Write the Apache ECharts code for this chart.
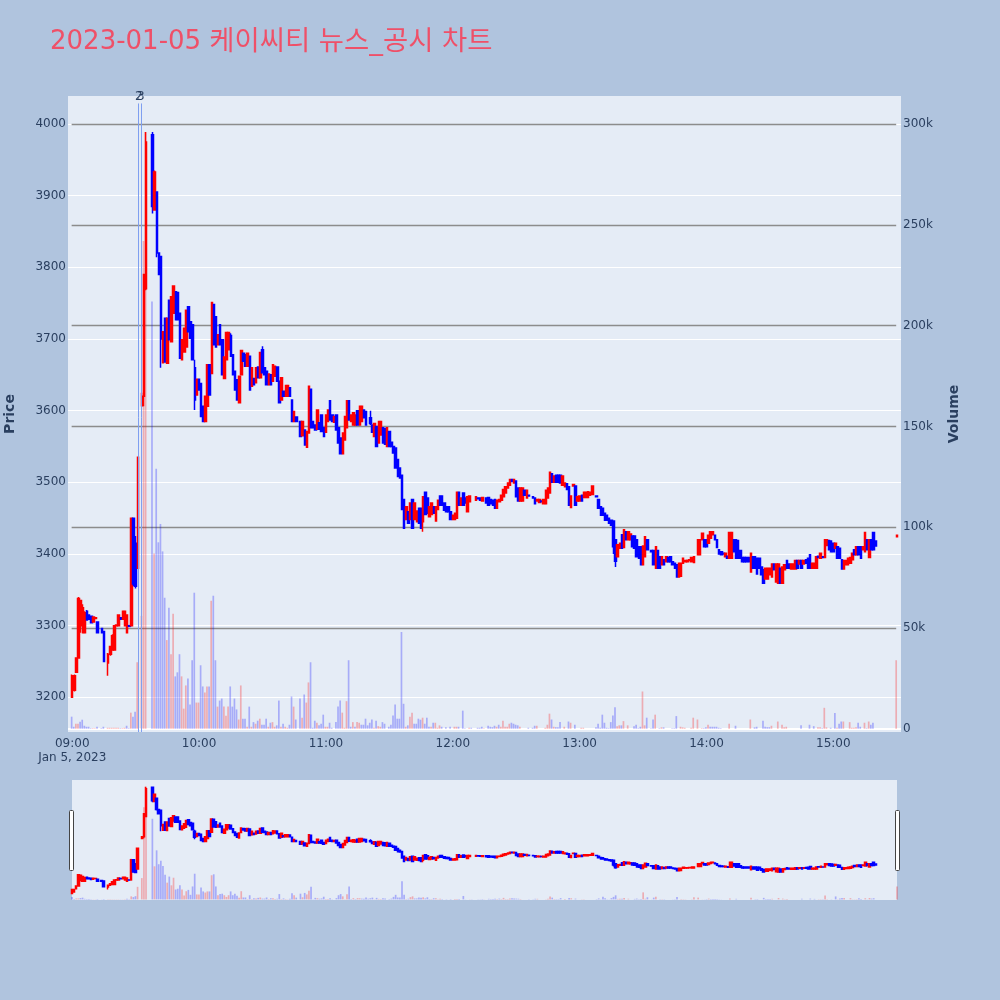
<!DOCTYPE html>
<html><head><meta charset="utf-8"><style>html,body{margin:0;padding:0;background:#b0c4de}#c{width:1000px;height:1000px}</style>
<script src="https://cdn.jsdelivr.net/npm/echarts@6/dist/echarts.min.js"></script></head><body><div id="c"></div><script>
const N=null;
// one entry per minute from 09:00 to 15:30
const opens=[3200,3210,3235,3255,3300,3290,3290,3320,3315,3313,
3305,3310,3305,N,3296,3292,N,3248,3260,3266,
3266,3300,3300,3311,3309,3300,3290,3300,3300,3450,
3415,3380,N,3607,3620,3770,N,N,3985,3880,
3905,3820,3815,3667,3729,3666,3754,3696,3736,3766,
3765,3736,3671,3682,3689,3745,3724,3720,3660,3622,
3644,3638,3606,3585,3606,3664,3652,3748,3731,3692,
3720,3699,3645,3671,3685,3705,3678,3655,3643,3611,
3650,3680,3678,3662,3676,3634,3645,3639,3661,3646,
3685,3660,3655,3636,3650,3641,3648,3661,3641,3615,
3627,3620,3620,3632,3615,3585,3591,N,3585,3565,
3573,3549,3569,3630,3585,3580,3574,3583,3594,3576,
3570,3585,3614,3594,3584,3594,3576,3562,3540,3559,
3576,3614,3585,3580,3580,3600,3580,3585,3601,3599,
N,3590,3580,3564,3578,3555,3566,3576,3575,3550,
3571,3556,3550,3548,3532,3520,3510,3476,3448,3459,
3448,3476,3448,3445,3464,3464,3445,3486,3478,3452,
3455,3466,3446,3462,3481,3481,3471,3466,3466,3459,
3448,3448,3450,3486,3468,3485,3478,3459,3473,N,
N,3475,3478,3478,3474,N,3478,3479,3476,3475,
3476,3464,3473,3475,3480,3485,3492,3496,3504,3499,
3502,3492,3474,3474,3489,3478,3482,N,3480,3478,
3474,3472,3474,3470,3470,3478,3485,3512,3500,3510,
3510,3510,3496,3494,3498,3494,3465,3495,3495,3474,
3474,3482,3479,3479,3479,3482,3483,N,3481,3476,
3466,3464,3457,3454,3450,3447,3446,3420,3396,3408,
3427,3409,3431,3420,3420,3425,3425,3420,3410,3410,
3385,3396,3420,N,3405,3405,3380,3405,3396,3385,
3392,3389,3395,3396,3389,3387,3385,3368,3369,3387,
3389,3389,3391,3389,3388,N,3399,3399,3420,3420,
3420,3415,3422,3427,3426,3420,3406,3403,3401,3396,
3397,3394,3394,3420,3420,3419,3405,3395,3395,3395,
3395,3375,3396,3396,3394,3394,3382,3378,3365,3365,
3371,3368,3386,3361,3359,3380,3359,3378,3391,3386,
3379,3379,3379,3391,3386,3391,3386,3392,3394,3399,
3380,3380,3380,3397,3394,3396,3395,3412,3419,3418,
3415,3408,3410,3408,3392,3379,3385,3385,3387,3392,
3406,3399,3410,3410,3406,3403,3420,3395,3420,3430,
3418,N,N,N,N,N,N,N,N,N,3424];
const closes=[3230,3230,3255,3338,3335,3325,3318,3308,3309,3304,
3312,3311,3290,N,3290,3250,N,3260,3271,3286,
3300,3301,3315,3309,3320,3320,3315,3299,3450,3358,
3355,3535,N,3620,3790,3975,N,N,3885,3933,
3820,3790,3700,3710,3668,3729,3699,3759,3774,3727,
3727,3673,3699,3715,3740,3710,3701,3671,3615,3644,
3629,3592,3585,3620,3664,3622,3751,3692,3689,3706,
3692,3650,3675,3709,3709,3676,3650,3629,3615,3648,
3684,3669,3662,3680,3629,3660,3636,3660,3646,3681,
3653,3650,3636,3651,3636,3664,3662,3641,3611,3646,
3620,3635,3635,3620,3585,3599,3585,N,3564,3585,
3552,3571,3634,3576,3576,3573,3601,3574,3571,3564,
3594,3601,3587,3585,3592,3573,3555,3540,3569,3592,
3614,3587,3594,3597,3594,3580,3606,3606,3590,3580,
N,3582,3570,3582,3550,3585,3585,3555,3553,3576,
3550,3550,3541,3520,3508,3506,3462,3436,3466,3443,
3471,3436,3471,3460,3443,3436,3480,3455,3457,3466,
3471,3457,3466,3475,3468,3468,3461,3459,3459,3448,
3454,3457,3486,3468,3478,3468,3471,3480,3481,N,
N,3480,3477,3475,3479,N,3471,3468,3470,3468,
3464,3475,3476,3482,3490,3494,3499,3504,3501,3504,
3480,3474,3492,3492,3482,3489,3481,N,3478,3470,
3476,3476,3473,3476,3489,3492,3514,3500,3509,3500,
3500,3499,3509,3499,3490,3468,3481,3497,3468,3480,
3481,3474,3486,3486,3487,3486,3495,N,3480,3464,
3454,3454,3447,3447,3443,3440,3410,3390,3413,3415,
3408,3434,3420,3431,3428,3410,3408,3396,3394,3385,
3411,3424,3406,N,3403,3385,3410,3380,3380,3396,
3385,3396,3389,3389,3385,3380,3368,3387,3387,3394,
3391,3391,3392,3395,3396,N,3420,3420,3429,3410,
3410,3426,3431,3431,3420,3409,3400,3399,3400,3401,
3394,3430,3430,3403,3394,3394,3394,3389,3389,3389,
3389,3401,3380,3380,3372,3380,3371,3359,3380,3380,
3380,3386,3378,3386,3386,3359,3382,3385,3380,3380,
3386,3386,3391,3380,3391,3380,3391,3387,3380,3380,
3387,3387,3396,3395,3401,3395,3420,3420,3406,3403,
3403,3415,3394,3394,3379,3391,3391,3394,3395,3401,
3399,3410,3399,3394,3410,3430,3406,3420,3406,3406,
3411,N,N,N,N,N,N,N,N,N,3426];
const highs=[3232,3232,3256,3340,3336,3330,3320,3322,3316,3314,
3313,3311,3306,N,3297,3293,N,3262,3272,3288,
3301,3302,3316,3311,3321,3321,3316,3300,3450,3450,
3425,3536,N,3625,3790,3989,N,N,3989,3935,
3905,3820,3815,3711,3730,3730,3755,3760,3775,3767,
3766,3737,3700,3716,3741,3746,3725,3721,3671,3645,
3645,3639,3607,3621,3665,3665,3752,3749,3732,3707,
3721,3700,3676,3710,3710,3708,3679,3656,3644,3649,
3685,3681,3679,3681,3677,3661,3646,3661,3662,3682,
3690,3661,3656,3652,3651,3665,3663,3662,3642,3647,
3628,3636,3636,3633,3616,3600,3592,N,3586,3586,
3574,3572,3635,3631,3586,3581,3602,3584,3595,3577,
3595,3602,3615,3595,3593,3595,3577,3563,3570,3593,
3615,3615,3595,3598,3595,3601,3607,3607,3602,3600,
N,3600,3581,3583,3579,3586,3586,3577,3576,3577,
3572,3557,3551,3549,3533,3521,3511,3477,3467,3460,
3472,3477,3472,3461,3465,3465,3481,3487,3479,3467,
3472,3467,3467,3476,3482,3482,3472,3467,3467,3460,
3455,3458,3487,3487,3479,3486,3479,3481,3482,N,
N,3481,3479,3479,3480,N,3479,3480,3477,3476,
3477,3476,3477,3483,3491,3495,3500,3505,3505,3505,
3503,3493,3493,3493,3490,3490,3483,N,3481,3479,
3477,3477,3475,3477,3490,3493,3515,3513,3510,3511,
3511,3511,3510,3500,3499,3495,3482,3498,3496,3481,
3482,3483,3487,3487,3488,3487,3496,N,3482,3477,
3467,3465,3458,3455,3451,3448,3447,3421,3414,3416,
3428,3435,3432,3432,3429,3426,3426,3421,3411,3411,
3412,3425,3421,N,3406,3406,3411,3406,3397,3397,
3393,3397,3396,3397,3390,3388,3386,3388,3388,3395,
3392,3392,3393,3396,3397,N,3421,3421,3430,3421,
3421,3427,3432,3432,3427,3421,3407,3404,3402,3402,
3398,3431,3431,3421,3421,3420,3406,3396,3396,3396,
3396,3402,3397,3397,3395,3395,3383,3379,3381,3381,
3381,3387,3387,3387,3387,3381,3383,3386,3392,3387,
3387,3387,3392,3392,3392,3392,3392,3393,3395,3400,
3388,3388,3397,3398,3402,3397,3421,3421,3420,3419,
3416,3416,3411,3409,3393,3392,3392,3395,3396,3402,
3407,3411,3411,3411,3411,3431,3421,3421,3421,3431,
3419,N,N,N,N,N,N,N,N,N,3427];
const lows=[3200,3208,3235,3255,3290,3290,3290,3308,3308,3304,
3304,3310,3290,N,3290,3250,N,3230,3258,3265,
3266,3299,3300,3309,3309,3300,3290,3299,3300,3355,
3352,3380,N,3606,3606,3768,N,N,3875,3880,
3814,3789,3660,3666,3667,3665,3698,3695,3735,3726,
3726,3672,3670,3681,3688,3709,3700,3670,3601,3621,
3628,3591,3584,3584,3605,3621,3651,3691,3688,3691,
3691,3649,3644,3670,3684,3675,3649,3628,3614,3610,
3649,3668,3661,3661,3628,3633,3635,3638,3645,3645,
3652,3649,3635,3635,3635,3640,3647,3640,3610,3614,
3619,3619,3619,3619,3584,3584,3584,N,3563,3564,
3551,3548,3568,3575,3575,3572,3573,3573,3570,3563,
3569,3584,3586,3584,3583,3572,3554,3539,3539,3558,
3575,3586,3584,3579,3579,3579,3579,3584,3589,3579,
N,3580,3569,3563,3549,3554,3565,3554,3552,3549,
3549,3549,3540,3519,3507,3505,3461,3435,3447,3442,
3447,3435,3447,3444,3442,3435,3431,3454,3456,3451,
3454,3456,3445,3461,3467,3467,3460,3458,3458,3447,
3447,3447,3449,3467,3467,3467,3470,3458,3472,N,
N,3474,3476,3474,3473,N,3470,3467,3469,3467,
3463,3463,3472,3474,3479,3484,3491,3495,3500,3498,
3479,3473,3473,3473,3481,3477,3480,N,3477,3469,
3473,3471,3472,3469,3469,3477,3484,3499,3499,3499,
3499,3498,3495,3493,3489,3467,3464,3494,3467,3473,
3473,3473,3478,3478,3478,3481,3482,N,3479,3463,
3453,3453,3446,3446,3442,3439,3400,3382,3395,3407,
3407,3408,3419,3419,3419,3409,3407,3395,3393,3384,
3384,3395,3405,N,3402,3384,3379,3379,3379,3384,
3384,3388,3388,3388,3384,3379,3367,3367,3368,3386,
3388,3388,3390,3388,3387,N,3398,3398,3419,3409,
3409,3414,3421,3426,3419,3408,3399,3398,3399,3395,
3393,3393,3393,3402,3393,3393,3393,3388,3388,3388,
3388,3374,3379,3379,3371,3379,3370,3358,3364,3364,
3370,3367,3377,3360,3358,3358,3358,3377,3379,3379,
3378,3378,3378,3379,3385,3379,3385,3386,3379,3379,
3379,3379,3379,3394,3393,3394,3394,3411,3405,3402,
3402,3407,3393,3393,3378,3378,3384,3384,3386,3391,
3398,3398,3398,3393,3405,3402,3405,3394,3405,3405,
3410,N,N,N,N,N,N,N,N,N,3423];
// thousands of shares per minute
const volumesK=[6,1,2.5,2.5,3.5,4.5,1.5,1,1,0.3,
0.3,0.3,1,0,0.3,1,0,0.5,0.5,0.5,
0.5,0.5,0.5,0.3,0.3,0.5,1.5,0.3,8,6,
8.5,33,0,56,242,296,0,0,212,87,
129,92.5,101.6,88,65,44,60,37,57,26,
28,37,26,10,21.5,25,12,34,67.5,13,
13,31.5,21,18,21,21,63.5,66,34,11,
14,15,11,6.5,11,21,11,15,9.6,4.6,
21.5,5,5,1,11,1,3.3,2.5,4,5,
2,2,5,1,3,3.3,1,1.7,14,1,
2.5,1,0.5,2,16,11,4.6,0,15,5.5,
17,13,23,33,0.5,4,3,1.7,2.5,7,
1,1,3,0.5,0,3.3,11,14,8,0.5,
13.7,34,1,3.3,1,3.3,3,2,2,5,
1.7,3,4.6,0.5,4,1.3,1,3.3,2.5,0,
1,2,6.6,12,5,5,48,12.4,1,1.7,
6,8,2.5,2.5,5,4.5,5.5,2.5,5.5,1,
1,3,3,0.5,1.7,1,0,0.7,0,1,
0,1,1,1,0,9,0.3,0,0.5,0.5,
0,0,0.5,0.5,1,0.3,0,1.5,1,0.8,
1.5,1,2,1,4,1,1,2.5,3,2.5,
2,1.7,1,0,0,0,0.5,0,0.5,1.5,
1.5,0,0,0,0.5,2,7.5,4.6,1,0.8,
0.8,3.3,0,1,0,3.6,3,0,2,0,
0,0.5,0.5,0,0,0,0,0,0.8,2.5,
0.5,7,3,0.5,0.3,3.3,6.6,10.7,1.3,1.7,
1.7,3.8,0,1.7,0,0,1.3,2,0.3,1,
18.5,1.7,5.5,0,0.3,4.6,7,0,0.3,0.7,
0.7,0,0,0,0.3,0.3,6.3,0,1,0.7,
0.5,0,0,0.5,5.5,0,4.6,0,0.3,0.3,
0.8,2,1,1,1,1,0.5,0.3,0,0,
0,2.5,0,0,1.5,0,0,0,0,0,
0,4.6,0,0.7,1,0,0,4,1,0.8,
0.8,1.5,0,0,3.6,0,2,0.7,1,0,
0,0,0,0,0,1.7,0,0,0,2,
0,1.3,0,0.7,0.7,0.3,10.4,0.7,0,0.5,
0,7.8,0.5,2.5,3.6,3.6,0,0,3.3,0.5,
0.5,0.7,3,1,0,3,0.3,3.6,2,3,
0,0,0,0,0,0,0,0,0,0,34];
// r = red bar, b = blue bar
const volumeSides=("bbrrbbbbbb rrbbbbbrrr rrrbrrbbrb brbrrrbbbr bbbbbrbrrb "+
"bbrrrbbbbr rbbrrbrbbr bbrrrbbbbr rbbrbrbrbr bbbrbrrbbr "+
"brrbbrbbbr brrbbbrbbb rrbbrbbbrr rbbrbrrbbb bbbrbrrbbr "+
"bbbbbbbbrb rrbbbbrbbb rbrrrbbbbb rrrbbbbbrb rrbbbrbbbb "+
"brbrrrrrbb bbrrbrbbbb rrbrrrrbrb bbrrbbrrbr rrrrrrrbbb "+
"bbbbbbbbrr brbrrbbbbb rrbbbbrbbr brbbbbbrrr rrrrrrrrrb "+
"brbbbbbbbr brrbbbbbbb brbbbbbbbb brbrrbrrrb rrrbrbrbbb "+
"rbrrrbrrbb bbrbbrrrrr rrbbrrbrbb bbbbbbbbbbr").replace(/ /g,"").split("");
const priceTicks=[3200,3300,3400,3500,3600,3700,3800,3900,4000];
const volumeTicksK=[0,50,100,150,200,250,300];
const volumeGuideLinesK=[50,100,150,200,250,300];
const hourLabels=["09:00","10:00","11:00","12:00","13:00","14:00","15:00"];
const annotations=[["09:31","2"],["09:32","3"]];
const titleDate="2023-01-05";
const titleName="케이씨티 뉴스_공시 차트";
const dateLabel="Jan 5, 2023";

const hhmm=m=>String(Math.floor(m/60)).padStart(2,"0")+":"+String(m%60).padStart(2,"0");
const categories=[];for(let m=8*60+58;m<=15*60+32;m++)categories.push(hhmm(m));
const pad=[N,N];
const candles=pad.concat(opens.map((o,i)=>o==null?N:[o,closes[i],lows[i],highs[i]])).map(d=>d||["-","-","-","-"]);
const barData=pad.concat(volumesK.map((v,i)=>({value:v,itemStyle:{color:volumeSides[i]=="r"?"rgba(255,0,0,.27)":"rgba(0,0,255,.27)"}})));
const FONT='"DejaVu Sans","Noto Sans CJK KR",sans-serif',INK="#2a3f5f";
const priceMin=3151.6,priceMax=4039.1,volMin=-1.6,volMax=313.9;
const candleStyle={color:"#f00",color0:"#00f",borderColor:"#f00",borderColor0:"#00f",borderColorDoji:"#00f",borderWidth:1.5};
const guide=volumeGuideLinesK.map(v=>[{xAxis:"09:00",yAxis:v},{xAxis:"15:30",yAxis:v}]);
const vlines=annotations.map(a=>[{xAxis:a[0],yAxis:volMin,name:a[1]},{xAxis:a[0],yAxis:310.2}]);
const chart=echarts.init(document.getElementById("c"),null,{renderer:"canvas"});
chart.setOption({
 animation:false,backgroundColor:"#b0c4de",tooltip:{show:false},
 title:{text:"{l|"+titleDate+" }{k|"+titleName+"}",left:50,top:29,padding:0,textStyle:{color:"#ef5068",fontSize:26,fontWeight:"normal",fontFamily:FONT,
   rich:{l:{color:"#ef5068",fontSize:26,fontFamily:FONT},k:{color:"#ef5068",fontSize:27.4,fontFamily:FONT}}}},
 grid:[{left:68,top:96,width:833,height:636,show:true,backgroundColor:"#e5ecf6",borderWidth:0,outerBoundsMode:"none"},
       {left:72,top:780,width:825,height:120,show:true,backgroundColor:"#e5ecf6",borderWidth:0,outerBoundsMode:"none"}],
 xAxis:[{type:"category",gridIndex:0,data:categories,boundaryGap:false,axisLine:{show:false},axisTick:{show:false},splitLine:{show:false},
   axisLabel:{color:INK,fontSize:12,fontFamily:FONT,margin:5,lineHeight:14,hideOverlap:false,interval:(i,v)=>hourLabels.includes(v),formatter:v=>v==hourLabels[0]?v+"\n"+dateLabel:v}},
  {type:"category",gridIndex:1,data:categories,boundaryGap:false,min:2,max:392,axisLine:{show:false},axisTick:{show:false},axisLabel:{show:false},splitLine:{show:false}}],
 yAxis:[{type:"value",gridIndex:0,min:priceMin,max:priceMax,scale:true,name:"Price",nameLocation:"middle",nameGap:51,nameRotate:90,
   nameTextStyle:{color:INK,fontSize:14,fontWeight:"bold",fontFamily:FONT},axisLine:{show:false},
   axisTick:{show:false,customValues:priceTicks},axisLabel:{customValues:priceTicks,color:INK,fontSize:12,fontFamily:FONT,margin:2,padding:[3,0,0,0],formatter:v=>String(v)},
   splitLine:{show:true,lineStyle:{color:"#fff",width:1.2}}},
  {type:"value",gridIndex:0,position:"right",min:volMin,max:volMax,name:"Volume",nameLocation:"middle",nameGap:46,nameRotate:90,
   nameTextStyle:{color:INK,fontSize:14,fontWeight:"bold",fontFamily:FONT},axisLine:{show:false},
   axisTick:{show:false,customValues:[0]},axisLabel:{customValues:volumeTicksK,color:INK,fontSize:12,fontFamily:FONT,margin:2,padding:[3,0,0,0],formatter:v=>v?v+"k":"0"},
   splitLine:{show:true,lineStyle:{color:"#fff",width:2}}},
  {type:"value",gridIndex:1,min:priceMin,max:priceMax,scale:true,axisLine:{show:false},axisTick:{show:false},axisLabel:{show:false},splitLine:{show:false}},
  {type:"value",gridIndex:1,position:"right",min:volMin,max:volMax,axisLine:{show:false},axisTick:{show:false},axisLabel:{show:false},splitLine:{show:false}}],
 series:[
  {type:"bar",name:"volume",xAxisIndex:0,yAxisIndex:1,data:barData,barWidth:1.7,z:2,silent:true,
   markLine:{silent:true,symbol:"none",animation:false,z:1,data:guide,lineStyle:{color:"#8c8c8c",width:1.3,type:"solid"},label:{show:false}}},
  {type:"bar",name:"annotations",xAxisIndex:0,yAxisIndex:1,data:[],silent:true,z:2,
   markLine:{silent:true,symbol:"none",animation:false,data:vlines,lineStyle:{color:"#7f9ff0",width:1,type:"solid"},
    label:{show:true,position:"end",distance:1,formatter:p=>p.name,color:INK,fontSize:12,fontFamily:FONT}}},
  {type:"candlestick",name:"price",xAxisIndex:0,yAxisIndex:0,data:candles,barWidth:2,itemStyle:candleStyle,z:3,silent:true,large:false,progressive:0},
  {type:"bar",xAxisIndex:1,yAxisIndex:3,data:barData,barWidth:1.7,z:2,silent:true},
  {type:"candlestick",xAxisIndex:1,yAxisIndex:2,data:candles,barWidth:2,itemStyle:candleStyle,z:3,silent:true,large:false,progressive:0}
 ],
 graphic:[{type:"rect",shape:{x:69.5,y:810.5,width:4,height:60,r:1},style:{fill:"#fff",stroke:"#444",lineWidth:1},z:10,silent:true},
          {type:"rect",shape:{x:895.5,y:810.5,width:4,height:60,r:1},style:{fill:"#fff",stroke:"#444",lineWidth:1},z:10,silent:true}]
});
</script></body></html>
